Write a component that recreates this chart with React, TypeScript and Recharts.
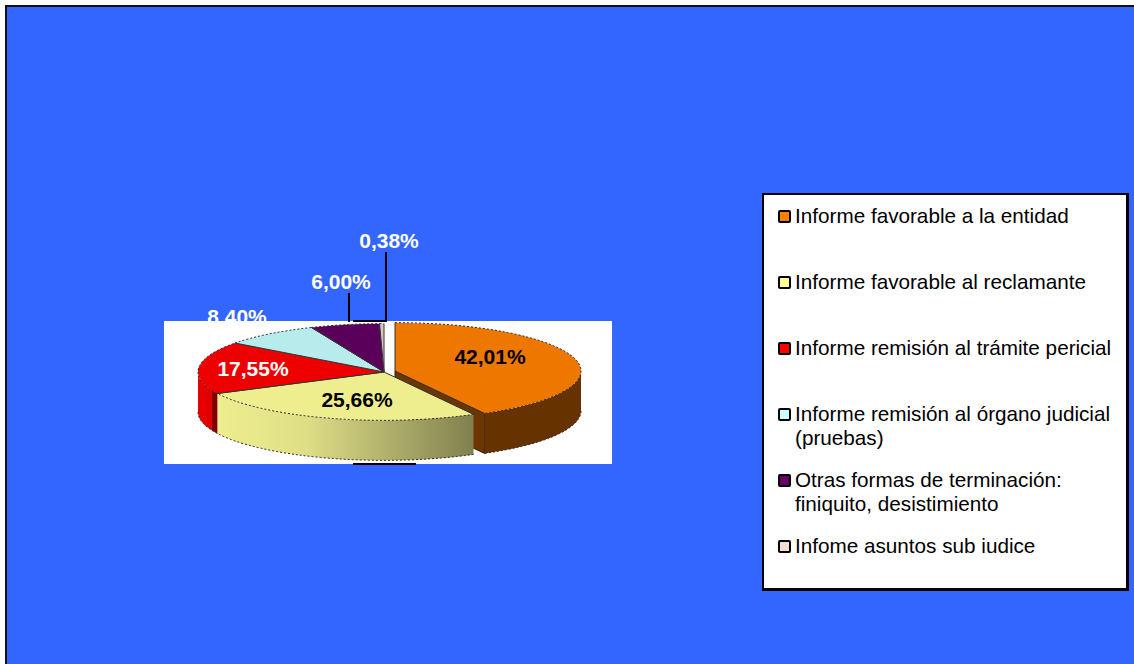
import { PieChart, Pie, Legend } from "recharts";

const categories = [
  "Informe favorable a la entidad",
  "Informe favorable al reclamante",
  "Informe remisión al trámite pericial",
  "Informe remisión al órgano judicial (pruebas)",
  "Otras formas de terminación: finiquito, desistimiento",
  "Infome asuntos sub iudice",
];
const shares = [42.01, 25.66, 17.55, 8.4, 6.0, 0.38];
const topColors = ["#ee7700", "#eeee8f", "#ee0000", "#b8ecec", "#5a005a", "#d8c8c4"];
const wallColors = ["#663300", "url(#yellowWall)", "url(#redWall)", "#88aaaa", "#330033", "#888888"];
const legendColors = ["#ff8000", "#ffff99", "#ff0000", "#ccffff", "#660066", "#f5dcd5"];
const labelColors = ["#000", "#000", "#fff", "#fff", "#fff", "#fff"];

// label centres, relative to the pie centre
const labelSpots = [
  [106, -16],
  [-27, 27],
  [-131, -4],
  [-147, -56],
  [-43, -91],
  [5, -132],
];
const leaders: Record<number, number[]> = { 4: [-35, -79], 5: [2, -120] };

const chartData = categories.map((name, i) => ({ name, value: shares[i], fill: topColors[i] }));

const CX = 384;
const CY = 372;
const RX = 186;
const SQUASH = 0.26;
const DEPTH = 40;
const EXPLODE = [11, -1];

const pointAt = (x: number, y: number, cw: number) => {
  const a = (cw * Math.PI) / 180;
  return [x + RX * Math.sin(a), y - RX * SQUASH * Math.cos(a)];
};

const EllipseSlice = (props: any) => {
  const i = categories.indexOf(props.name);
  const x = props.cx + (i === 0 ? EXPLODE[0] : 0);
  const y = props.cy + (i === 0 ? EXPLODE[1] : 0);
  const ry = RX * SQUASH;
  const from = 90 - props.startAngle;
  const to = 90 - props.endAngle;
  const [sx, sy] = pointAt(x, y, from);
  const [ex, ey] = pointAt(x, y, to);
  const large = to - from > 180 ? 1 : 0;

  const wallFrom = Math.max(from, 90);
  const wallTo = Math.min(to, 270);
  let wall = null;
  if (wallTo > wallFrom) {
    const [ax, ay] = pointAt(x, y, wallFrom);
    const [bx, by] = pointAt(x, y, wallTo);
    const d = `M${ax},${ay} A${RX},${ry} 0 0 1 ${bx},${by} L${bx},${by + DEPTH} A${RX},${ry} 0 0 0 ${ax},${ay + DEPTH} Z`;
    wall = (
      <>
        <path d={d} fill={wallColors[i]} />
        <path
          d={`M${ax},${ay + DEPTH} A${RX},${ry} 0 0 1 ${bx},${by + DEPTH}`}
          fill="none"
          stroke="#222"
          strokeWidth={1}
          strokeDasharray="2 2"
        />
      </>
    );
  }

  return (
    <g>
      {i === 0 && (
        <path
          d={`M${x},${y} L${ex},${ey} L${ex},${ey + DEPTH} L${x},${y + DEPTH} Z`}
          fill="#6b3600"
          stroke="#3a1c00"
          strokeWidth={1}
        />
      )}
      {wall}
      <path d={`M${x},${y} L${sx},${sy} A${RX},${ry} 0 ${large} 1 ${ex},${ey} Z`} fill={props.fill} />
      <path
        d={`M${sx},${sy} A${RX},${ry} 0 ${large} 1 ${ex},${ey}`}
        fill="none"
        stroke="#222"
        strokeWidth={1}
        strokeDasharray="2 2"
      />
      <path d={`M${sx},${sy} L${x},${y} L${ex},${ey}`} fill="none" stroke="#333" strokeWidth={1} />
    </g>
  );
};

const renderLabel = (props: any) => {
  const i = categories.indexOf(props.name);
  const [dx, dy] = labelSpots[i];
  const text = props.value.toFixed(2).replace(".", ",") + "%";
  const leader = leaders[i];
  return (
    <g>
      {leader && (
        <line
          x1={props.cx + leader[0]}
          x2={props.cx + leader[0]}
          y1={props.cy + leader[1]}
          y2={props.cy - 50}
          stroke="#000"
          strokeWidth={2}
        />
      )}
      <text
        x={props.cx + dx}
        y={props.cy + dy}
        textAnchor="middle"
        dominantBaseline="central"
        fill={labelColors[i]}
        fontSize={21}
        fontWeight="bold"
        fontFamily="'Liberation Sans', Arial, sans-serif"
        clipPath={i === 3 ? "url(#aboveBox)" : undefined}
      >
        {text}
      </text>
    </g>
  );
};

const LegendBox = ({ payload }: any) => (
  <div
    style={{
      boxSizing: "border-box",
      width: 367,
      height: 398,
      background: "#fff",
      border: "2px solid #000",
      borderRight: "3px solid #000",
      borderBottom: "3px solid #000",
      paddingTop: 9,
      fontFamily: "'Liberation Sans', Arial, sans-serif",
      fontSize: 20.7,
      lineHeight: "24px",
      color: "#000",
    }}
  >
    {(payload || []).map((entry: any) => {
      const i = categories.indexOf(entry.value);
      return (
        <div key={entry.value} style={{ position: "relative", height: 66, paddingLeft: 31, paddingRight: 8 }}>
          <span
            style={{
              position: "absolute",
              left: 14,
              top: 6,
              width: 9,
              height: 9,
              background: legendColors[i],
              border: "2px solid #000",
              borderRadius: 2,
            }}
          />
          {entry.value}
        </div>
      );
    })}
  </div>
);

export default function App() {
  return (
    <div style={{ position: "fixed", left: 0, top: 0, width: 1134, height: 664, background: "#fff", overflow: "hidden" }}>
      <div
        style={{
          position: "absolute",
          left: 5,
          top: 5,
          width: 1129,
          height: 659,
          boxSizing: "border-box",
          background: "#3366ff",
          borderLeft: "2px solid #111",
          borderTop: "2px solid #111",
        }}
      />
      <div style={{ position: "absolute", left: 0, top: 0 }}>
        <PieChart width={1134} height={664} margin={{ top: 0, right: 0, bottom: 0, left: 0 }}>
          <defs>
            <linearGradient id="yellowWall" x1="0" x2="1" y1="0" y2="0">
              <stop offset="0" stopColor="#eeee8f" />
              <stop offset="0.35" stopColor="#dede86" />
              <stop offset="1" stopColor="#808050" />
            </linearGradient>
            <linearGradient id="redWall" x1="0" x2="1" y1="0" y2="0">
              <stop offset="0" stopColor="#e80000" />
              <stop offset="0.7" stopColor="#e00000" />
              <stop offset="0.75" stopColor="#800000" />
              <stop offset="1" stopColor="#800000" />
            </linearGradient>
            <clipPath id="aboveBox">
              <rect x={0} y={0} width={1134} height={321} />
            </clipPath>
          </defs>
          <rect x={164} y={321} width={448} height={143} fill="#fff" />
          <line x1={353} x2={416} y1={464} y2={464} stroke="#000" strokeWidth={2} />
          <line x1={353} x2={387} y1={321} y2={321} stroke="#000" strokeWidth={2} />
          <Pie
            data={chartData}
            dataKey="value"
            nameKey="name"
            cx={CX}
            cy={CY}
            outerRadius={RX}
            startAngle={90}
            endAngle={-270}
            stroke="none"
            shape={EllipseSlice}
            label={renderLabel}
            labelLine={false}
            isAnimationActive={false}
          />
          <Legend
            content={<LegendBox />}
            itemSorter={null}
            wrapperStyle={{ position: "absolute", left: 762, top: 193, width: 367, height: 398 }}
          />
        </PieChart>
      </div>
    </div>
  );
}
